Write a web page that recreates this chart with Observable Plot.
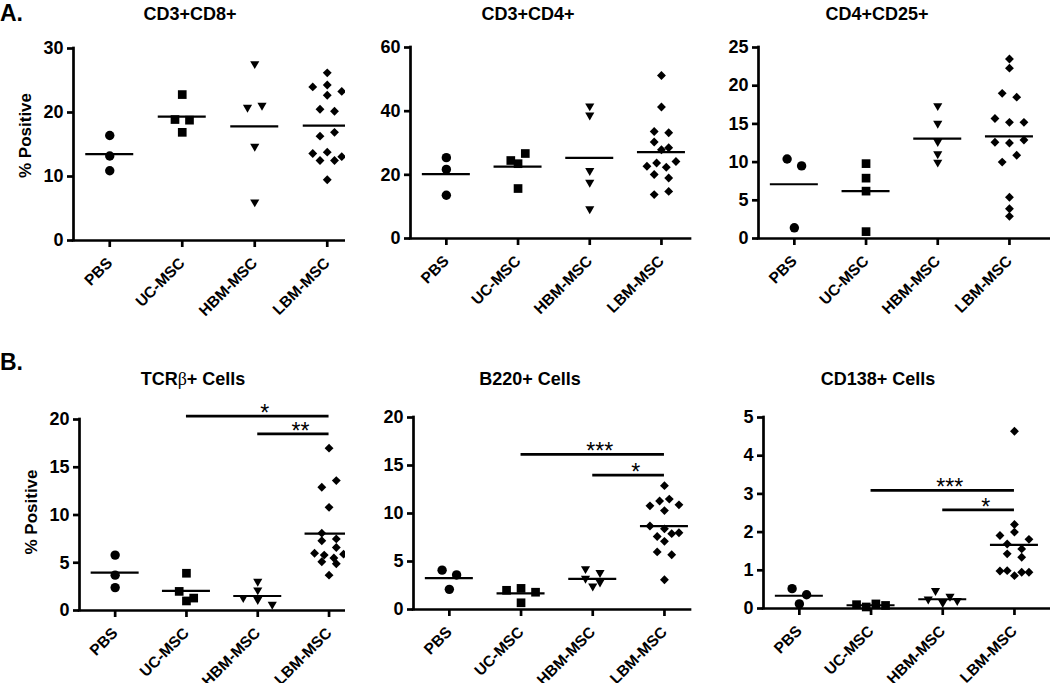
<!DOCTYPE html>
<html><head><meta charset="utf-8">
<script src="https://cdn.jsdelivr.net/npm/d3@7"></script>
<script src="https://cdn.jsdelivr.net/npm/@observablehq/plot@0.6"></script>
<style>
body{margin:0;background:#fff;font-family:"Liberation Sans",Arial,sans-serif;color:#000;}
#root{position:relative;width:1050px;height:683px;overflow:hidden;background:#fff;}
.panel{position:absolute;}
.title{position:absolute;font-weight:bold;font-size:18px;line-height:18px;height:18px;text-align:center;white-space:nowrap;width:220px;}
.title .sym{font-weight:normal;font-family:"Liberation Serif","DejaVu Serif",serif;}
.letter{position:absolute;font-weight:bold;font-size:23px;line-height:23px;}
</style></head><body><div id="root"></div>
<script>
// ---------- data ----------
const groups = ["PBS", "UC-MSC", "HBM-MSC", "LBM-MSC"];

const cd3cd8 = [
  [16.4, 13.2, 10.9],
  [22.8, 18.9, 18.8, 16.9],
  [27.4, 20.6, 20.9, 14.5, 5.8],
  [26.2, 24.0, 24.3, 22.7, 23.3, 20.5, 20.2, 16.3, 16.9, 13.6, 13.8, 12.5, 12.5, 13.1, 9.5]
];
const cd3cd4 = [
  [25.4, 21.7, 13.6],
  [24.5, 23.5, 26.7, 15.7],
  [38.3, 41.2, 20.9, 17.2, 8.9],
  [51.2, 41.3, 33.6, 33.2, 30.3, 27.9, 28.5, 22.7, 23.7, 22.4, 24.2, 20.1, 19.0, 13.8, 14.8]
];
const cd4cd25 = [
  [10.4, 9.5, 1.4],
  [9.8, 7.9, 6.2, 0.9],
  [17.2, 14.9, 12.5, 9.8, 10.9],
  [22.3, 23.5, 19.0, 18.5, 15.7, 15.2, 15.2, 12.6, 12.5, 12.9, 10.0, 10.9, 5.4, 2.9, 3.9]
];
const tcrb = [
  [5.8, 3.7, 2.4],
  [3.9, 2.0, 1.3, 1.0],
  [2.9, 2.0, 1.2, 1.0, 0.5],
  [17.0, 12.9, 13.6, 10.8, 8.1, 7.3, 7.5, 6.0, 6.6, 5.8, 5.5, 5.9, 5.1, 4.9, 3.7]
];
const b220 = [
  [4.1, 3.6, 2.1],
  [2.0, 2.2, 1.8, 0.7],
  [4.1, 3.7, 3.1, 2.7, 2.3],
  [12.9, 10.8, 11.3, 11.5, 10.9, 10.3, 8.7, 8.4, 8.0, 7.6, 7.9, 7.1, 6.0, 5.7, 3.1]
];
const cd138 = [
  [0.52, 0.36, 0.12],
  [0.10, 0.04, 0.12, 0.08],
  [0.43, 0.21, 0.28, 0.12, 0.17],
  [4.64, 2.20, 1.91, 2.00, 1.69, 1.81, 1.43, 1.56, 1.34, 0.98, 0.99, 0.86, 0.95, 0.95]
];

const ticksCD8 = [0, 10, 20, 30];
const ticksCD4 = [0, 20, 40, 60];
const ticksCD25 = [0, 5, 10, 15, 20, 25];
const ticksTCR = [0, 5, 10, 15, 20];
const ticksB220 = [0, 5, 10, 15, 20];
const ticks138 = [0, 1, 2, 3, 4, 5];

// significance: [from group, label, level]; all bars end at LBM-MSC
const sigTCR = [["UC-MSC", "*", 20.35], ["HBM-MSC", "**", 18.5]];
const sigB220 = [["UC-MSC", "***", 16.15], ["HBM-MSC", "*", 14.0]];
const sig138 = [["UC-MSC", "***", 3.09], ["HBM-MSC", "*", 2.58]];

const titles = ["CD3+CD8+", "CD3+CD4+", "CD4+CD25+", "TCRβ+ Cells", "B220+ Cells", "CD138+ Cells"];
const yLabel = "% Positive";

// ---------- layout ----------
const panels = [
  {data: cd3cd8, ticks: ticksCD8, sig: [], title: titles[0], left: 0, top: 0, w: 345, h: 330, ml: 73, mr: 0, mt: 48, mb: 90, step: 72.5, label: true, ldy: -9, tc: 190},
  {data: cd3cd4, ticks: ticksCD4, sig: [], title: titles[1], left: 345, top: 0, w: 350, h: 330, ml: 65, mr: 5, mt: 47, mb: 92, step: 71.7, label: false, tc: 528},
  {data: cd4cd25, ticks: ticksCD25, sig: [], title: titles[2], left: 695, top: 0, w: 355, h: 330, ml: 63, mr: 0, mt: 47, mb: 92, step: 71.7, label: false, tc: 877},
  {data: tcrb, ticks: ticksTCR, sig: sigTCR, title: titles[3], left: 0, top: 330, w: 345, h: 353, ml: 79, mr: 0, mt: 89, mb: 73, step: 71.3, label: true, ldy: -3, tc: 193},
  {data: b220, ticks: ticksB220, sig: sigB220, title: titles[4], left: 345, top: 330, w: 350, h: 353, ml: 68, mr: 5, mt: 87, mb: 74, step: 71.7, label: false, tc: 530},
  {data: cd138, ticks: ticks138, sig: sig138, title: titles[5], left: 695, top: 330, w: 355, h: 353, ml: 68, mr: 0, mt: 87, mb: 75, step: 71.7, label: false, tc: 878}
];

// downward triangle, centred on its bounding box
const triDown = {
  draw(ctx, size) {
    const y = Math.sqrt(size / (Math.sqrt(3) * 3));
    const s3 = Math.sqrt(3);
    ctx.moveTo(0, 1.5 * y);
    ctx.lineTo(s3 * y, -1.5 * y);
    ctx.lineTo(-s3 * y, -1.5 * y);
    ctx.closePath();
  }
};
const symbols = ["circle", "square", triDown, "diamond2"];
const radii = [4.7, 4.9, 3.4, 4.0];

// scatter rows: points whose values are close (in pixels) are spread horizontally
function swarm(values, gi, ppu, step) {
  const T = 7.5;
  const pts = values.map((v, i) => ({v, i})).sort((a, b) => b.v - a.v || a.i - b.i);
  const rows = [];
  let cur = null;
  for (const p of pts) {
    if (cur && (cur[0].v - p.v) * ppu < T) cur.push(p);
    else { cur = [p]; rows.push(cur); }
  }
  const out = [];
  for (const row of rows) {
    row.sort((a, b) => a.i - b.i);
    const n = row.length;
    const sp = n <= 3 ? 14.5 : Math.min(14.5, 29 / (n - 1));
    row.forEach((p, k) => out.push({g: gi, v: p.v, x: gi + (k - (n - 1) / 2) * sp / step}));
  }
  return out;
}

function makePlot(p) {
  const yMax = p.ticks[p.ticks.length - 1];
  const plotH = p.h - p.mt - p.mb;
  const ppu = plotH / yMax;
  const plotW = p.w - p.ml - p.mr;
  const xMin = -0.5;
  const xMax = plotW / p.step - 0.5;
  let pts = [];
  p.data.forEach((vals, gi) => { pts = pts.concat(swarm(vals, gi, ppu, p.step)); });
  const means = p.data.map((vals, gi) => ({gi, m: d3.mean(vals)}));
  const half = 24 / p.step;
  const last = groups.length - 1;

  const marks = [
    Plot.ruleX([xMin], {y1: 0, y2: yMax, strokeWidth: 2.7, strokeLinecap: "square"}),
    Plot.ruleY([0], {x1: xMin, x2: xMax, strokeWidth: 2.7, strokeLinecap: "square"}),
    Plot.axisY({ticks: p.ticks, tickFormat: d => String(d), tickSize: 6, tickPadding: 4, strokeWidth: 2.7, fontSize: 18, fontWeight: "bold", label: null}),
    Plot.axisX({ticks: groups.map((g, i) => i), tickFormat: i => groups[i], tickRotate: -45, tickSize: 7, tickPadding: 13, strokeWidth: 2.7, fontSize: 15.5, fontWeight: "bold", label: null}),
    Plot.ruleY(means, {y: "m", x1: d => d.gi - half, x2: d => d.gi + half, strokeWidth: 2.2}),
    ...symbols.map((sym, gi) => Plot.dot(pts.filter(d => d.g === gi), {x: "x", y: "v", symbol: sym, r: radii[gi], fill: "black", stroke: "none"})),
    Plot.ruleY(p.sig, {y: d => d[2], x1: d => groups.indexOf(d[0]), x2: last, strokeWidth: 2.7}),
    Plot.text(p.sig, {x: d => (groups.indexOf(d[0]) + last) / 2, y: d => d[2], text: d => d[1], lineAnchor: "bottom", dx: 7, dy: 5, fontSize: 23, fontWeight: "normal"})
  ];
  if (p.label) {
    marks.push(Plot.text([yLabel], {text: d => d, frameAnchor: "left", textAnchor: "middle", lineAnchor: "middle", rotate: -90, dx: -48, dy: p.ldy, fontSize: 17, fontWeight: "bold"}));
  }
  return Plot.plot({
    width: p.w, height: p.h,
    marginLeft: p.ml, marginRight: p.mr, marginTop: p.mt, marginBottom: p.mb,
    x: {type: "linear", domain: [xMin, xMax]},
    y: {type: "linear", domain: [0, yMax]},
    style: {fontFamily: "'Liberation Sans', Arial, sans-serif", fontWeight: "bold", fontSize: "16px", color: "black", background: "white", overflow: "visible"},
    marks
  });
}

const root = document.getElementById("root");
panels.forEach(p => {
  const div = document.createElement("div");
  div.className = "panel";
  div.style.left = p.left + "px";
  div.style.top = p.top + "px";
  div.appendChild(makePlot(p));
  root.appendChild(div);
});
panels.forEach(p => {
  const t = document.createElement("div");
  t.className = "title";
  t.style.left = (p.tc - 110) + "px";
  t.style.top = (p.top === 0 ? 5 : 370) + "px";
  t.innerHTML = p.title.replace("β", '<span class="sym">β</span>');
  root.appendChild(t);
});
[["A.", 2], ["B.", 351]].forEach(([s, top]) => {
  const l = document.createElement("div");
  l.className = "letter";
  l.style.left = "0px";
  l.style.top = top + "px";
  l.textContent = s;
  root.appendChild(l);
});
</script>
</body></html>
